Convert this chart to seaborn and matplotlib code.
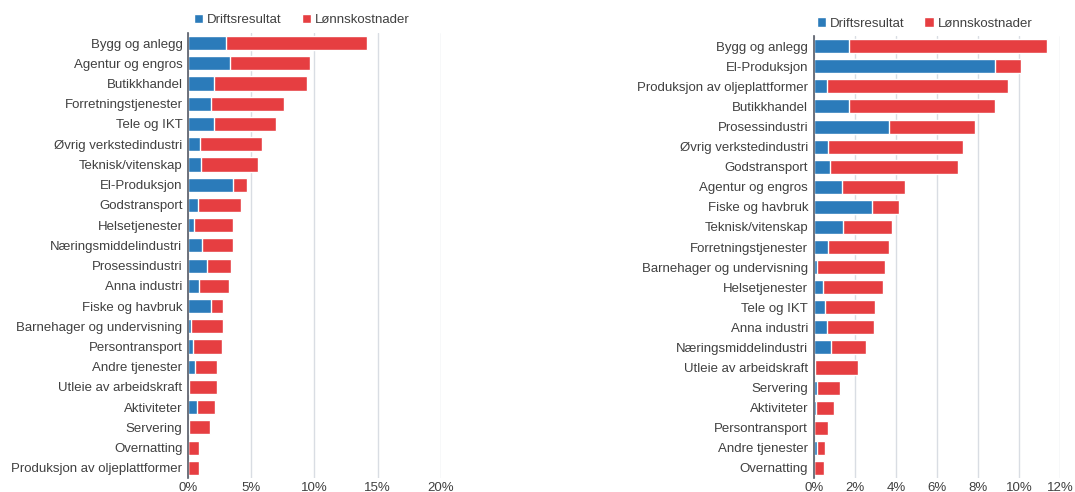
import matplotlib
matplotlib.use("Agg")
import matplotlib.pyplot as plt
import seaborn as sns
import pandas as pd
from matplotlib.patches import Patch
from matplotlib.ticker import FuncFormatter, MultipleLocator

# Left panel
left_cats = ["Bygg og anlegg", "Agentur og engros", "Butikkhandel", "Forretningstjenester",
             "Tele og IKT", "Øvrig verkstedindustri", "Teknisk/vitenskap", "El-Produksjon",
             "Godstransport", "Helsetjenester", "Næringsmiddelindustri", "Prosessindustri",
             "Anna industri", "Fiske og havbruk", "Barnehager og undervisning", "Persontransport",
             "Andre tjenester", "Utleie av arbeidskraft", "Aktiviteter", "Servering",
             "Overnatting", "Produksjon av oljeplattformer"]
left_drift = [3.03, 3.34, 2.03, 1.82, 2.03, 0.92, 1.05, 3.58, 0.76, 0.50, 1.13, 1.50,
              0.84, 1.82, 0.26, 0.37, 0.55, 0.05, 0.71, 0.08, 0.02, 0.0]
left_total = [14.13, 9.68, 9.37, 7.60, 6.97, 5.84, 5.55, 4.63, 4.16, 3.55, 3.53, 3.42,
              3.24, 2.79, 2.74, 2.68, 2.32, 2.29, 2.16, 1.74, 0.87, 0.84]

# Right panel
right_cats = ["Bygg og anlegg", "El-Produksjon", "Produksjon av oljeplattformer", "Butikkhandel",
              "Prosessindustri", "Øvrig verkstedindustri", "Godstransport", "Agentur og engros",
              "Fiske og havbruk", "Teknisk/vitenskap", "Forretningstjenester",
              "Barnehager og undervisning", "Helsetjenester", "Tele og IKT", "Anna industri",
              "Næringsmiddelindustri", "Utleie av arbeidskraft", "Servering", "Aktiviteter",
              "Persontransport", "Andre tjenester", "Overnatting"]
right_drift = [1.74, 8.83, 0.63, 1.74, 3.69, 0.71, 0.79, 1.38, 2.83, 1.42, 0.71, 0.17,
               0.43, 0.55, 0.63, 0.85, 0.05, 0.16, 0.13, 0.03, 0.14, 0.03]
right_total = [11.38, 10.08, 9.49, 8.85, 7.85, 7.25, 7.04, 4.43, 4.16, 3.83, 3.67, 3.47,
               3.39, 3.00, 2.96, 2.55, 2.14, 1.27, 1.00, 0.71, 0.54, 0.51]

series_names = ["Driftsresultat", "Lønnskostnader"]
BLUE = "#2b7bba"
RED = "#e63e41"
TEXT = "#404040"

sns.set_theme(style="white")
plt.rcParams["font.family"] = ["Liberation Sans", "DejaVu Sans"]

fig = plt.figure(figsize=(10.75, 4.92), dpi=100)
axL = fig.add_axes([0.1749, 0.0285, 0.2353, 0.9045])
axR = fig.add_axes([0.757, 0.0285, 0.2290, 0.898])


def draw(ax, cats, drift, total, xmax, step):
    df = pd.DataFrame({"cat": cats, "drift": drift, "total": total})
    sns.barplot(data=df, x="total", y="cat", color=RED, orient="h", width=0.7,
                saturation=1, ax=ax, zorder=2)
    sns.barplot(data=df, x="drift", y="cat", color=BLUE, orient="h", width=0.7,
                saturation=1, ax=ax, zorder=3)
    ax.set_xlim(0, xmax)
    ax.xaxis.set_major_locator(MultipleLocator(step))
    ax.xaxis.set_major_formatter(FuncFormatter(lambda v, p: f"{v:.0f}%"))
    ax.set_xlabel("")
    ax.set_ylabel("")
    ax.grid(axis="x", color="#d9dde3", linewidth=1, zorder=0)
    ax.set_axisbelow(True)
    for s in ["top", "right", "bottom"]:
        ax.spines[s].set_visible(False)
    ax.spines["left"].set_color("#555a66")
    ax.spines["left"].set_linewidth(1.2)
    ax.spines["left"].set_zorder(5)
    ax.tick_params(axis="y", length=0, pad=4, labelsize=9.5, labelcolor=TEXT)
    ax.tick_params(axis="x", length=0, pad=3, labelsize=9.5, labelcolor=TEXT)
    handles = [Patch(facecolor=BLUE, label=series_names[0]),
               Patch(facecolor=RED, label=series_names[1])]
    ax.legend(handles=handles, loc="lower center", bbox_to_anchor=(0.45, 1.0), ncol=2,
              frameon=False, fontsize=9.5, handlelength=0.7, handleheight=0.7,
              handletextpad=0.3, columnspacing=1.5, borderaxespad=0.1,
              labelcolor=TEXT)


draw(axL, left_cats, left_drift, left_total, 20, 5)
draw(axR, right_cats, right_drift, right_total, 12, 2)

fig.savefig("out.png", dpi=100)
